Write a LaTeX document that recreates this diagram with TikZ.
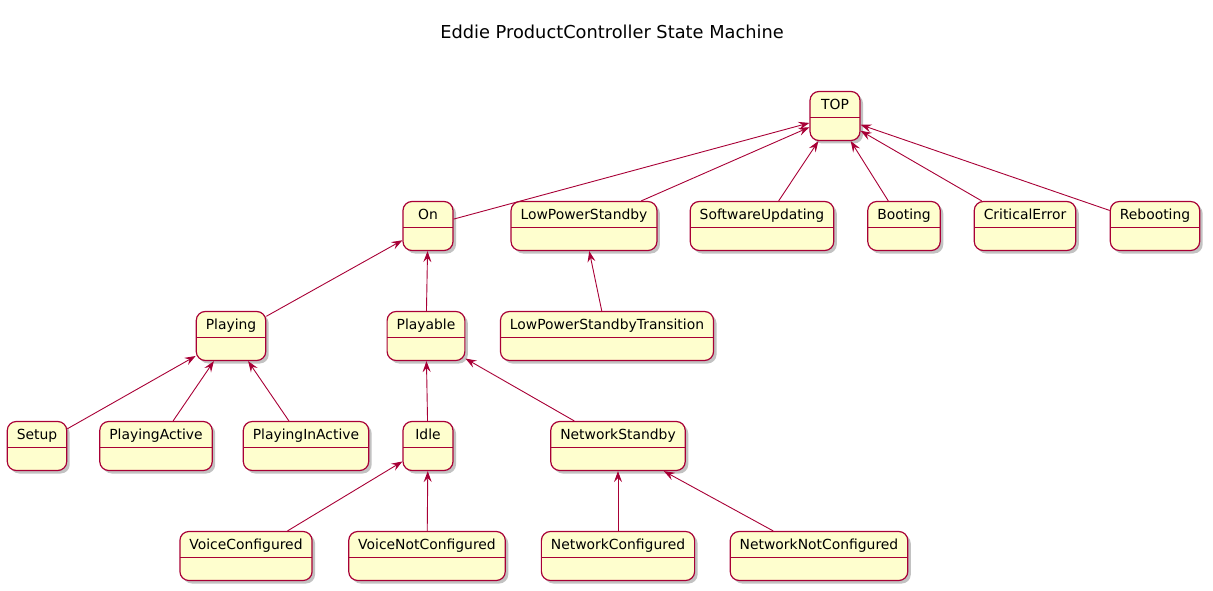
\documentclass[tikz,border=0pt]{standalone}
\usepackage{fontspec}
\setmainfont{DejaVu Sans}
\usepackage{tikz}
\usetikzlibrary{arrows.meta,shadows}
\definecolor{rose}{HTML}{A80036}
\definecolor{cream}{HTML}{FEFECE}

\begin{document}
\begin{tikzpicture}[x=1pt,y=-1pt,
    state/.style={draw=rose,fill=cream,line width=1.2pt,rounded corners=9pt,
      minimum width=50pt,minimum height=49pt,inner xsep=9.5pt,inner ysep=6pt,
      text height=12pt,text depth=25pt,font=\fontsize{13.9}{16}\selectfont,
      drop shadow={shadow xshift=3pt,shadow yshift=-3pt,fill=black!40,opacity=.6},
      path picture={\draw[rose,line width=1.2pt]
        ([yshift=-1.5pt]path picture bounding box.west) --
        ([yshift=-1.5pt]path picture bounding box.east);}},
    edge/.style={draw=rose,line width=0.9pt,-{Stealth[length=11pt,width=8pt,inset=4pt]}}]
    \useasboundingbox (0,0) rectangle (1213,591);
    \node[font=\fontsize{17.8}{21}\selectfont] (title) at (612,32) {Eddie ProductController State Machine};

    % states
    \foreach \name/\x/\y in {TOP/835/116,
      On/428/226, LowPowerStandby/584/226, SoftwareUpdating/762/226,
      Booting/904/226, CriticalError/1025/226, Rebooting/1155/226,
      Playing/231/336, Playable/426/336, LowPowerStandbyTransition/607/336,
      Setup/37/446, PlayingActive/156/446, PlayingInActive/306/446,
      Idle/428/446, NetworkStandby/618/446,
      VoiceConfigured/246/556, VoiceNotConfigured/427/556,
      NetworkConfigured/618/556, NetworkNotConfigured/819/556}
      \node[state] (\name) at (\x,\y) {\name};

    % transitions to parent
    \foreach \a/\b in {On/TOP, LowPowerStandby/TOP, SoftwareUpdating/TOP,
      Booting/TOP, CriticalError/TOP, Rebooting/TOP,
      Playing/On, Playable/On, LowPowerStandbyTransition/LowPowerStandby,
      Setup/Playing, PlayingActive/Playing, PlayingInActive/Playing,
      Idle/Playable, NetworkStandby/Playable,
      VoiceConfigured/Idle, VoiceNotConfigured/Idle,
      NetworkConfigured/NetworkStandby, NetworkNotConfigured/NetworkStandby}
      \draw[edge] (\a) -- (\b);
\end{tikzpicture}
\end{document}
